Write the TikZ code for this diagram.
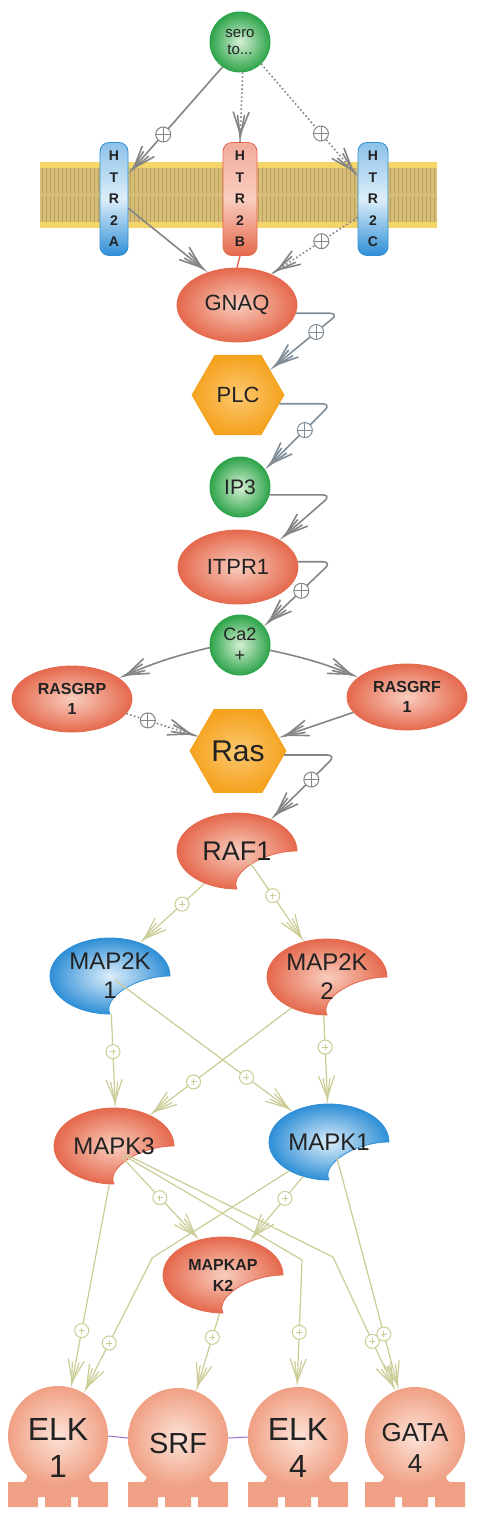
\documentclass[tikz,border=0pt]{standalone}
\usepackage{fontspec}
\setmainfont{Liberation Sans}
\usetikzlibrary{shapes.geometric,arrows.meta,calc}
\definecolor{salD}{HTML}{E5694D}
\definecolor{salL}{HTML}{F9CDBE}
\definecolor{bluD}{HTML}{2F8FD6}
\definecolor{bluL}{HTML}{DDEEFA}
\definecolor{grnD}{HTML}{2EA44A}
\definecolor{grnL}{HTML}{D5F0D5}
\definecolor{orgD}{HTML}{F5A21E}
\definecolor{orgL}{HTML}{FCC870}
\definecolor{tfD}{HTML}{F0A084}
\definecolor{tfL}{HTML}{FCE3D8}
\definecolor{edgeG}{HTML}{858585}
\definecolor{edgeB}{HTML}{7F8D99}
\definecolor{edgeY}{HTML}{CCCC96}
\definecolor{memT}{HTML}{D6BE78}
\definecolor{memS}{HTML}{B9A05A}
\definecolor{memH}{HTML}{F3D56A}
\definecolor{purp}{HTML}{9E6FC0}
\definecolor{txt}{HTML}{222222}
\newcommand{\kinshape}[4]{\path[shade, inner color=#3, outer color=#4, draw=#4, line width=0.8pt, shift={(#1,#2)}] (60,0) .. controls (60,-21) and (33,-38) .. (0,-38) .. controls (-33,-38) and (-60,-21) .. (-60,0) .. controls (-60,21) and (-33,38) .. (0,38) .. controls (-8,22) and (26,0) .. cycle;}
\newcommand{\tfbase}[1]{%
  \fill[tfD] (#1-40,1483) .. controls (#1-32,1482) .. (#1-30,1470) -- (#1+30,1470) .. controls (#1+32,1482) .. (#1+40,1483) -- cycle;
  \fill[tfD] (#1-50,1507) -- (#1-50,1482) -- (#1+50,1482) -- (#1+50,1507) -- (#1+20,1507) -- (#1+20,1497) -- (#1+13,1497) -- (#1+13,1507) -- (#1-13,1507) -- (#1-13,1497) -- (#1-20,1497) -- (#1-20,1507) -- cycle;}
\tikzset{
  arr/.style={-{Straight Barb[length=22pt,width=16pt,sep=-22pt]Straight Barb[length=22pt,width=7pt]}},
  gline/.style={draw=edgeG, line width=1.6pt, arr},
  bline/.style={draw=edgeB, line width=1.6pt, arr},
  gdot/.style={draw=edgeG, line width=1.6pt, dash pattern=on 1.6pt off 2.4pt},
  yline/.style={draw=edgeY, line width=1.2pt, arr},
  pmg/.style={circle, solid, draw=edgeG, fill=white, line width=1pt, minimum size=15pt, inner sep=0pt,
    path picture={\draw[-, solid, edgeG, line width=0.9pt] (path picture bounding box.north) -- (path picture bounding box.south) (path picture bounding box.west) -- (path picture bounding box.east);}},
  pmb/.style={circle, solid, draw=edgeB, fill=white, line width=1pt, minimum size=15pt, inner sep=0pt,
    path picture={\draw[-, solid, edgeB, line width=0.9pt] (path picture bounding box.north) -- (path picture bounding box.south) (path picture bounding box.west) -- (path picture bounding box.east);}},
  pmy/.style={circle, solid, draw=edgeY, fill=white, line width=1pt, minimum size=14pt, inner sep=0pt,
    path picture={\draw[-, solid, edgeY, line width=0.8pt] ([xshift=-3pt]path picture bounding box.center) -- ([xshift=3pt]path picture bounding box.center) ([yshift=-3pt]path picture bounding box.center) -- ([yshift=3pt]path picture bounding box.center);}},
  gcirc/.style={circle, minimum size=60pt, inner sep=0pt, shade, inner color=grnL, outer color=grnD, draw=grnD, line width=1pt, align=center, text=txt},
  salE/.style={ellipse, minimum width=120pt, minimum height=74pt, inner sep=0pt, shade, inner color=salL, outer color=salD, draw=salD, line width=0.8pt, align=center, text=txt},
  hexa/.style={regular polygon, regular polygon sides=6, minimum size=92pt, inner sep=0pt, shade, inner color=orgL, outer color=orgD, draw=orgD, line width=0.8pt, text=txt},
  kin/.style={ellipse, minimum width=120pt, minimum height=76pt, inner sep=0pt, align=center, text=txt},
  rec/.style={rectangle, rounded corners=9pt, minimum width=28pt, minimum height=113pt, inner sep=0pt, align=center, line width=0.8pt, font=\bfseries\fontsize{14}{21.5}\selectfont, text=txt},
  recB/.style={rec, draw=bluD, top color=bluD!55, bottom color=bluD, middle color=bluL},
  recS/.style={rec, draw=salD, top color=salD!55, bottom color=salD, middle color=salL},
  tfc/.style={circle, minimum size=100pt, inner sep=0pt, shade, inner color=tfL, outer color=tfD},
  tft/.style={align=center, text=txt},
}
\begin{document}
\begin{tikzpicture}[x=1pt, y=-1pt, line join=round]
\fill[white] (0,0) rectangle (478,1522);
\useasboundingbox (0,0) rectangle (478,1522);
% membrane
\fill[memT] (40,162) rectangle (437,228);
\foreach \x in {42,46,...,436} {\draw[memS, line width=1pt] (\x,168) -- (\x,193) (\x,197) -- (\x,222);}
\fill[memH] (40,162) rectangle (437,168);
\fill[memH] (40,222) rectangle (437,228);
% top nodes
\node[gcirc, font=\fontsize{15}{17}\selectfont] (sero) at (240,42) {sero\\to...};
\node[recB] (htr2a) at (114,199) {H\\T\\R\\2\\A};
\node[recS, minimum width=34pt] (htr2b) at (240,199) {H\\T\\R\\2\\B};
\node[recB, minimum width=30pt] (htr2c) at (373,199) {H\\T\\R\\2\\C};
\node[salE, font=\fontsize{22}{24}\selectfont] (gnaq) at (237,305) {GNAQ};
\node[hexa, font=\fontsize{22}{24}\selectfont] (plc) at (238,395) {PLC};
\node[gcirc, font=\fontsize{21}{23}\selectfont] (ip3) at (240,487) {IP3};
\node[salE, font=\fontsize{22}{24}\selectfont] (itpr1) at (238,567) {ITPR1};
\node[gcirc, font=\fontsize{18}{21}\selectfont] (ca) at (240,645) {Ca2\\+};
\node[salE, minimum height=66pt, font=\bfseries\fontsize{16}{20}\selectfont] (rasgrp) at (72,699) {RASGRP\\1};
\node[salE, minimum height=66pt, font=\bfseries\fontsize{16}{20}\selectfont] (rasgrf) at (407,697) {RASGRF\\1};
\node[hexa, minimum size=96pt, font=\fontsize{30}{32}\selectfont] (ras) at (238,751) {Ras};
% kinases
\kinshape{237}{851}{salL}{salD}
\kinshape{110}{976}{bluL}{bluD}
\kinshape{327}{977}{salL}{salD}
\kinshape{114}{1146}{salL}{salD}
\kinshape{329}{1142}{bluL}{bluD}
\kinshape{223}{1275}{salL}{salD}
\node[kin, font=\fontsize{27}{29}\selectfont] (raf1) at (237,851) {RAF1};
\node[kin, font=\fontsize{24}{29}\selectfont] (map2k1) at (110,976) {MAP2K\\1};
\node[kin, font=\fontsize{24}{29}\selectfont] (map2k2) at (327,977) {MAP2K\\2};
\node[kin, font=\fontsize{24}{26}\selectfont] (mapk3) at (114,1146) {MAPK3};
\node[kin, font=\fontsize{24}{26}\selectfont] (mapk1) at (329,1142) {MAPK1};
\node[kin, font=\bfseries\fontsize{16}{21}\selectfont] (mapkap) at (223,1275) {MAPKAP\\K2};
% transcription factors
\tfbase{58}
\tfbase{178}
\tfbase{298}
\tfbase{415}
\node[tfc] (elk1) at (58,1436) {};
\node[tfc] (srf) at (178,1438) {};
\node[tfc] (elk4) at (298,1437) {};
\node[tfc] (gata4) at (415,1437) {};
\node[tft, font=\fontsize{32}{37}\selectfont] (elk1t) at (58,1448) {ELK\\1};
\node[tft, font=\fontsize{29}{31}\selectfont] (srft) at (178,1443) {SRF};
\node[tft, font=\fontsize{32}{37}\selectfont] (elk4t) at (298,1448) {ELK\\4};
\node[tft, font=\fontsize{26}{31}\selectfont] (gata4t) at (415,1448) {GATA\\4};
\draw[purp, line width=1pt] (elk1.east) -- (srf.west);
\draw[purp, line width=1pt] (srf.east) -- (elk4.west);
% top edges
\draw[gline] (sero.235) -- node[pmg,pos=.63]{} (htr2a.60);
\draw[gdot] (sero.-85) -- (htr2b.north);
\draw[gline] ($(htr2b.north)!3pt!(sero.-85)$) -- (htr2b.north);
\draw[gdot] (sero.-46) -- node[pmg,pos=.62]{} (htr2c.124);
\draw[gline] ($(htr2c.124)!3pt!(sero.-46)$) -- (htr2c.124);
\draw[gline] (htr2a.-33) -- (gnaq.132);
\draw[gdot] (htr2c.230) -- node[pmg,pos=.42]{} (gnaq.42);
\draw[gline] ($(gnaq.42)!3pt!(htr2c.230)$) -- (gnaq.42);
\draw[salD, line width=1.4pt] (htr2b.south) -- (gnaq.north);
% cascade
\draw[bline, rounded corners=9pt] (gnaq.-8) -- ++(43,0) -- node[pmb,pos=.33]{} (plc.38);
\draw[bline, rounded corners=9pt] (plc.-12) -- ++(52,0) -- node[pmb,pos=.4]{} (ip3.35);
\draw[gline, rounded corners=9pt] (ip3.-15) -- ++(62,0) -- (itpr1.33);
\draw[gline, rounded corners=9pt] (itpr1.5) -- ++(34,0) -- node[pmg,pos=.45]{} (ca.38);
\draw[gline] (ca.185) to[bend right=5] (rasgrp.24);
\draw[gline] (ca.-10) to[bend left=5] (rasgrf.158);
\draw[gdot] (rasgrp.-15) -- node[pmg,pos=.3]{} (ras.160);
\draw[gline] ($(ras.160)!3pt!(rasgrp.-15)$) -- (ras.160);
\draw[gline] (rasgrf.196) -- (ras.18);
\draw[gline, rounded corners=9pt] (ras.-5) -- ++(52,0) -- node[pmg,pos=.38]{} (raf1.43);
% kinase edges
\draw[yline] (raf1.225) -- node[pmy,pos=.35]{} (map2k1.48);
\draw[yline] ([shift={(10,7)}]raf1.center) -- node[pmy,pos=.45]{} (map2k2.123);
\draw[yline] (map2k1.-88) -- node[pmy,pos=.4]{} (mapk3.88);
\draw[yline] ([shift={(5,4)}]map2k1.center) -- node[pmy,pos=.74]{} (mapk1.140);
\draw[yline] (map2k2.221) -- node[pmy,pos=.69]{} (mapk3.41);
\draw[yline] (map2k2.-95) -- node[pmy,pos=.36]{} (mapk1.92);
\draw[yline] (mapk3.-97) -- node[pmy,pos=.72]{} (elk1.75);
\draw[yline] ([shift={(8,11)}]mapk3.center) -- node[pmy,pos=.49]{} (mapkap.124);
\draw[yline] ([shift={(9,9)}]mapk3.center) -- ++(179,105) -- node[pmy,pos=.57]{} (elk4.91);
\draw[yline] ([shift={(13,9)}]mapk3.center) -- ++(206,102) -- node[pmy,pos=.63]{} (gata4.113);
\draw[yline] (mapk1.233) -- node[pmy,pos=.34]{} (mapkap.52);
\draw[yline] (mapk1.216) -- ++(-137,87) -- node[pmy,pos=.63]{} (elk1.59);
\draw[yline] ([shift={(8,16)}]mapk1.center) -- node[pmy,pos=.76]{} (gata4.109);
\draw[yline] (mapkap.-95) -- node[pmy,pos=.31]{} (srf.69);
\end{tikzpicture}
\end{document}
